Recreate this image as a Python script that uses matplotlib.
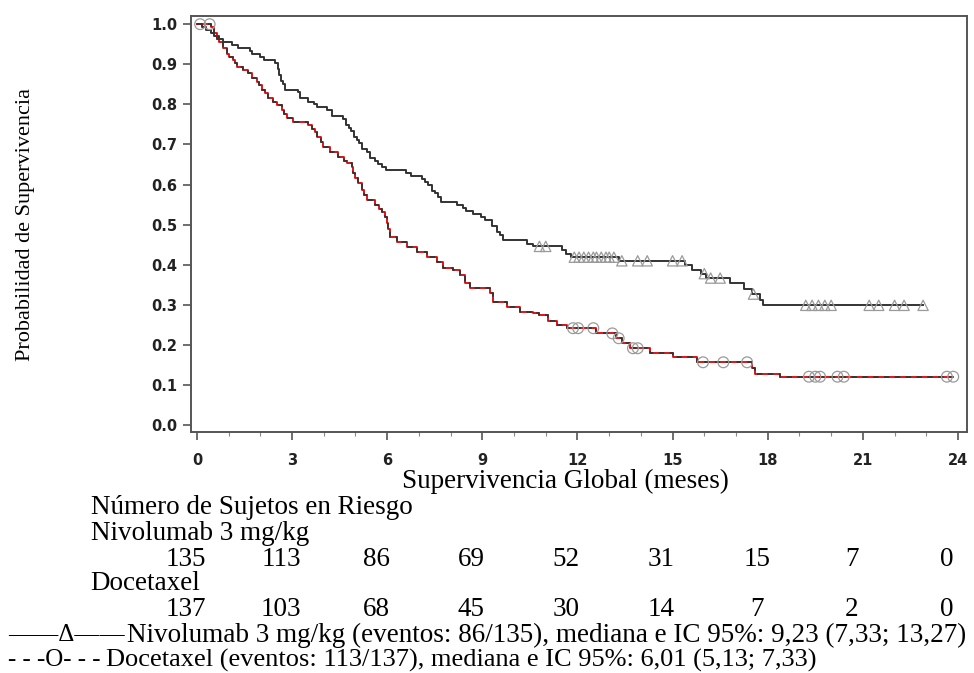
import numpy as np
import matplotlib
matplotlib.use("Agg")
import matplotlib.pyplot as plt
from matplotlib.transforms import blended_transform_factory

# Kaplan-Meier steps (months, survival after step)
nivo_t = [0.0, 0.15, 0.3, 0.45, 0.55, 0.7, 0.82, 1.1, 1.3, 1.67, 1.75, 2.0, 2.1,
          2.45, 2.55, 2.6, 2.65, 2.72, 2.78, 3.2, 3.25, 3.5, 3.7, 3.8, 4.1, 4.25,
          4.6, 4.7, 4.8, 4.85, 4.95, 5.05, 5.1, 5.2, 5.35, 5.45, 5.6, 5.7, 5.85,
          5.95, 6.6, 6.75, 7.1, 7.2, 7.3, 7.4, 7.5, 7.6, 7.7, 8.2, 8.4, 8.5, 8.7,
          8.95, 9.1, 9.3, 9.45, 9.55, 9.65, 10.4, 10.6, 11.5, 11.65, 11.8, 13.3,
          15.4, 15.6, 15.9, 16.05, 16.8, 17.25, 17.5, 17.75, 17.85]
nivo_s = [1.0, 0.993, 0.985, 0.978, 0.97, 0.963, 0.955, 0.948, 0.941, 0.933,
          0.926, 0.918, 0.911, 0.904, 0.889, 0.874, 0.859, 0.852, 0.837, 0.830,
          0.815, 0.807, 0.800, 0.793, 0.785, 0.770, 0.763, 0.748, 0.741, 0.733,
          0.719, 0.711, 0.704, 0.689, 0.681, 0.667, 0.659, 0.652, 0.644, 0.637,
          0.630, 0.622, 0.615, 0.607, 0.600, 0.585, 0.578, 0.570, 0.556, 0.548,
          0.541, 0.533, 0.526, 0.518, 0.511, 0.496, 0.481, 0.474, 0.461, 0.453,
          0.446, 0.437, 0.428, 0.419, 0.410, 0.399, 0.388, 0.378, 0.367, 0.354,
          0.340, 0.327, 0.313, 0.299]
nivo_cens = [10.8, 11.0, 11.9, 12.05, 12.2, 12.35, 12.5, 12.6, 12.75, 12.9, 13.0,
             13.15, 13.4, 13.9, 14.2, 15.0, 15.3, 16.0, 16.2, 16.5, 17.55, 19.2,
             19.4, 19.6, 19.8, 20.0, 21.2, 21.5, 22.0, 22.3, 22.9]

doce_t = [0.0, 0.45, 0.55, 0.62, 0.7, 0.82, 0.95, 1.0, 1.14, 1.2, 1.26, 1.45, 1.6,
          1.73, 1.89, 1.95, 2.05, 2.15, 2.24, 2.4, 2.52, 2.68, 2.75, 2.84, 3.03,
          3.5, 3.62, 3.72, 3.8, 3.9, 3.97, 4.2, 4.45, 4.65, 4.73, 4.88, 4.92, 5.0,
          5.08, 5.2, 5.28, 5.36, 5.6, 5.75, 5.84, 5.92, 5.99, 6.03, 6.09, 6.3, 6.62,
          6.94, 7.26, 7.57, 7.76, 8.08, 8.3, 8.45, 8.61, 9.24, 9.34, 9.78, 10.2,
          10.6, 10.8, 11.07, 11.36, 11.67, 12.6, 13.2, 13.4, 13.66, 14.3, 15.0,
          15.77, 17.5, 17.6, 18.4]
doce_s = [1.0, 0.993, 0.978, 0.963, 0.956, 0.941, 0.926, 0.918, 0.911, 0.904,
          0.894, 0.886, 0.879, 0.866, 0.857, 0.849, 0.835, 0.828, 0.815, 0.806,
          0.798, 0.786, 0.776, 0.766, 0.757, 0.749, 0.739, 0.731, 0.718, 0.705,
          0.693, 0.681, 0.668, 0.660, 0.653, 0.643, 0.628, 0.616, 0.603, 0.586,
          0.574, 0.561, 0.549, 0.540, 0.531, 0.518, 0.504, 0.489, 0.469, 0.456,
          0.444, 0.431, 0.419, 0.406, 0.392, 0.387, 0.374, 0.354, 0.342, 0.329,
          0.307, 0.294, 0.282, 0.279, 0.274, 0.260, 0.249, 0.242, 0.229, 0.217,
          0.204, 0.192, 0.180, 0.170, 0.157, 0.142, 0.127, 0.121]
doce_cens = [0.1, 0.4, 11.86, 12.02, 12.5, 13.1, 13.3, 13.75, 13.9, 15.96, 16.6,
             17.35, 19.3, 19.5, 19.65, 20.2, 20.4, 23.65, 23.85]

risk_times = [0, 3, 6, 9, 12, 15, 18, 21, 24]
risk_nivo = [135, 113, 86, 69, 52, 31, 15, 7, 0]
risk_doce = [137, 103, 68, 45, 30, 14, 7, 2, 0]

SERIF = "Liberation Serif"
FS = 19.5


def step_at(times, surv, x):
    idx = np.searchsorted(times, x, side="right") - 1
    return np.asarray(surv)[idx]


def curve(times, surv, cens):
    end = max(times[-1], max(cens))
    return list(times) + [end], list(surv) + [surv[-1]]


fig = plt.figure(figsize=(9.74, 6.73), dpi=100)
ax = fig.add_axes([0.196, 0.358, 0.797, 0.618])

nx, ny = curve(nivo_t, nivo_s, nivo_cens)
ax.step(nx, ny, where="post", color="#333333", lw=1.4, zorder=3)
ax.scatter(nivo_cens, step_at(nivo_t, nivo_s, nivo_cens), marker="^", s=55,
           facecolors="none", edgecolors="#9a9a9a", linewidths=0.9, zorder=4)

dx, dy = curve(doce_t, doce_s, doce_cens)
ax.step(dx, dy, where="post", color="#e00000", lw=1.3, zorder=3)
ax.step(dx, dy, where="post", color="#333333", lw=1.3, dashes=(3, 3), zorder=3)
ax.scatter(doce_cens, step_at(doce_t, doce_s, doce_cens), marker="o", s=60,
           facecolors="none", edgecolors="#9a9a9a", linewidths=0.9, zorder=4)

ax.set_xlim(-0.19, 24.29)
ax.set_ylim(-0.017, 1.02)
ax.set_xticks(np.arange(0, 25, 3))
ax.set_xticks(np.arange(0, 25, 1), minor=True)
ax.set_yticks(np.arange(0, 1.01, 0.1))
ax.set_yticklabels([f"{v:.1f}" for v in np.arange(0, 1.01, 0.1)])
for sp in ax.spines.values():
    sp.set_color("#555555")
    sp.set_linewidth(1.4)
ax.tick_params(axis="both", which="major", length=6, width=1.2, color="#555555",
               labelsize=10.5, labelcolor="#222222", pad=4)
ax.tick_params(axis="x", which="minor", length=3, width=0.8, color="#888888")
ax.tick_params(axis="x", pad=9)
for lab in ax.get_xticklabels() + ax.get_yticklabels():
    lab.set_fontweight("semibold")

H = 673.0


def fy(py):
    return 1 - py / H


fig.text(0.026, fy(225), "Probabilidad de Supervivencia", rotation=90,
         ha="center", va="center", family=SERIF, fontsize=16)
fig.text(0.581, fy(481), "Supervivencia Global (meses)", ha="center",
         va="center", family=SERIF, fontsize=FS)
fig.text(0.093, fy(507), "Número de Sujetos en Riesgo", ha="left",
         va="center", family=SERIF, fontsize=FS)
fig.text(0.093, fy(533), "Nivolumab 3 mg/kg", ha="left", va="center",
         family=SERIF, fontsize=FS)
fig.text(0.093, fy(584), "Docetaxel", ha="left", va="center",
         family=SERIF, fontsize=FS)

tr = blended_transform_factory(ax.transData, fig.transFigure)
for t, a, b in zip(risk_times, risk_nivo, risk_doce):
    ax.text(t - 0.35, fy(559), str(a), transform=tr, ha="center", va="center",
            family=SERIF, fontsize=FS, clip_on=False)
    ax.text(t - 0.35, fy(610), str(b), transform=tr, ha="center", va="center",
            family=SERIF, fontsize=FS, clip_on=False)

# legend lines: symbol then description
fig.text(0.008, fy(635), "——Δ——", ha="left", va="center", family=SERIF,
         fontsize=18)
fig.text(0.130, fy(635),
         "Nivolumab 3 mg/kg (eventos: 86/135), mediana e IC 95%: 9,23 (7,33; 13,27)",
         ha="left", va="center", family=SERIF, fontsize=FS)
fig.text(0.008, fy(660), "- - -O- - -", ha="left", va="center", family=SERIF,
         fontsize=18)
fig.text(0.109, fy(660),
         "Docetaxel (eventos: 113/137), mediana e IC 95%: 6,01 (5,13; 7,33)",
         ha="left", va="center", family=SERIF, fontsize=19)

fig.savefig("out.png", dpi=100)
